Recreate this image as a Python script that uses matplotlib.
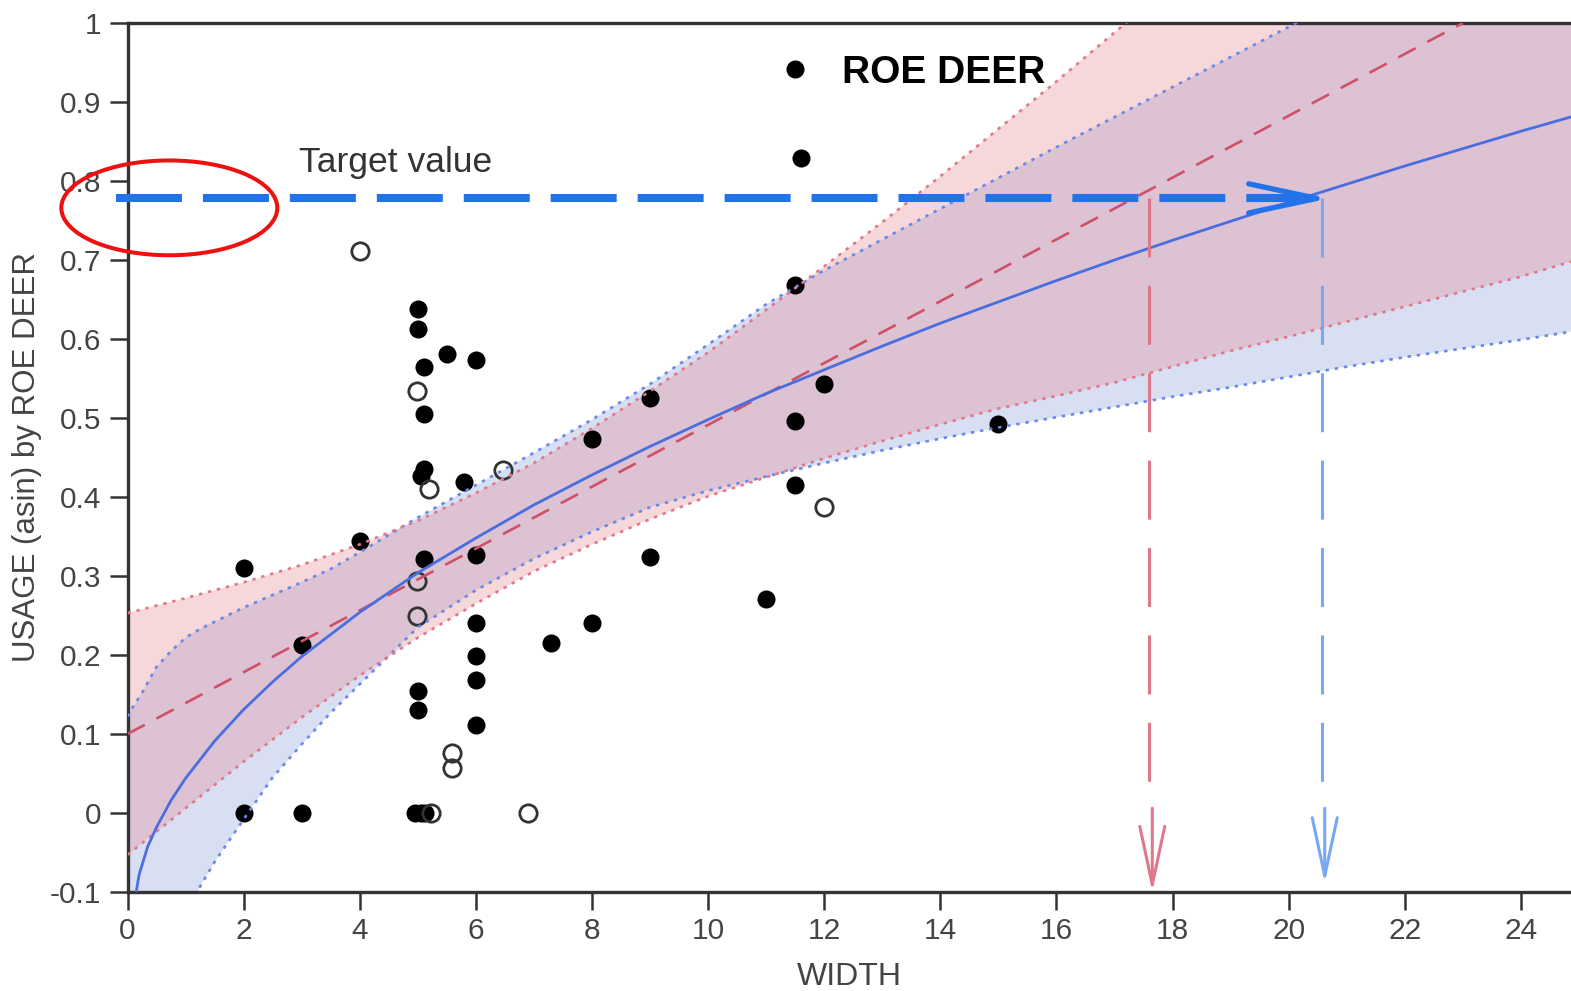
import matplotlib
matplotlib.use('Agg')
import matplotlib.pyplot as plt
from matplotlib.patches import Ellipse
from matplotlib.lines import Line2D

plt.rcParams['font.family'] = ['Liberation Sans', 'DejaVu Sans']

# ---------------- data ----------------
# sites used by roe deer (filled) and other sites (open)
width_used = [2, 2, 3, 3, 4, 5, 5, 5.1, 5.1, 5.1, 5.05, 5.1, 5, 5, 4.95, 5.05, 5.12,
              5.5, 6, 5.8, 6, 6, 6, 6, 6, 7.3, 8, 8, 9, 9, 11, 11.5, 11.6, 11.5,
              11.5, 12, 15]
usage_used = [0.31, 0.0, 0.213, 0.0, 0.344, 0.638, 0.613, 0.565, 0.505, 0.436, 0.426,
              0.322, 0.155, 0.130, 0.0, 0.0, 0.0, 0.581, 0.573, 0.419, 0.327, 0.241,
              0.199, 0.168, 0.111, 0.215, 0.474, 0.241, 0.525, 0.324, 0.271, 0.668,
              0.829, 0.496, 0.415, 0.543, 0.493]
width_open = [4.0, 4.98, 5.2, 6.47, 4.98, 4.98, 5.59, 5.59, 5.23, 6.89, 12.0]
usage_open = [0.712, 0.534, 0.41, 0.434, 0.294, 0.249, 0.076, 0.057, 0.0, 0.0, 0.387]

# non-linear (power) fit and its confidence band
fit_x = [0.15, 0.2, 0.35, 0.5, 0.75, 1.0, 1.5, 2, 2.5, 3, 4, 5, 6, 7, 8, 9, 10, 11, 12,
         13, 14, 15, 16, 17, 18, 19, 20, 21, 22, 23, 24, 25]
fit_y = [-0.100, -0.078, -0.042, -0.018, 0.016, 0.044, 0.091, 0.131, 0.166, 0.198,
         0.254, 0.304, 0.348, 0.390, 0.428, 0.464, 0.498, 0.531, 0.561, 0.591, 0.620,
         0.647, 0.674, 0.700, 0.725, 0.749, 0.773, 0.796, 0.819, 0.841, 0.863, 0.884]
band_x = [0, 0.1, 0.25, 0.5, 0.75, 1, 1.25, 1.5, 2, 2.5, 3, 3.5, 4, 5, 6, 7, 8, 9, 10,
          11, 12, 13, 14, 15, 16, 17, 18, 19, 20, 21, 22, 23, 24, 25]
band_upper = [0.122, 0.135, 0.152, 0.185, 0.205, 0.222, 0.233, 0.242, 0.260, 0.276,
              0.292, 0.309, 0.330, 0.374, 0.415, 0.456, 0.498, 0.543, 0.593, 0.644,
              0.687, 0.726, 0.765, 0.804, 0.843, 0.881, 0.919, 0.957, 0.995, 1.033,
              1.071, 1.109, 1.147, 1.185]
band_lower = [-0.45, -0.40, -0.33, -0.25, -0.19, -0.135, -0.093, -0.062, -0.008, 0.045,
              0.087, 0.127, 0.163, 0.235, 0.282, 0.322, 0.356, 0.387, 0.408, 0.426,
              0.443, 0.459, 0.474, 0.488, 0.501, 0.514, 0.527, 0.539, 0.552, 0.565,
              0.577, 0.588, 0.599, 0.611]

# linear fit and its confidence band
lin_x = [0, 23]
lin_y = [0.10, 1.0]
lin_band_x = [0, 1, 2, 3, 4, 5, 6, 7, 8, 9, 10, 11, 12, 13, 14, 15, 16, 17, 18, 19,
              20, 21, 22, 23, 24, 25]
lin_upper = [0.253, 0.272, 0.292, 0.314, 0.340, 0.370, 0.405, 0.443, 0.487, 0.534,
             0.583, 0.637, 0.692, 0.748, 0.806, 0.866, 0.926, 0.988, 1.05, 1.11, 1.17,
             1.23, 1.29, 1.35, 1.41, 1.47]
lin_lower = [-0.053, 0.006, 0.065, 0.121, 0.174, 0.222, 0.265, 0.306, 0.340, 0.372,
             0.401, 0.425, 0.449, 0.471, 0.492, 0.512, 0.528, 0.545, 0.565, 0.585,
             0.603, 0.622, 0.641, 0.660, 0.679, 0.701]

target_value = 0.778
target_start = -0.19
width_linear = 17.6
width_power = 20.6
width_power_tip = 20.7

x_ticks = [0, 2, 4, 6, 8, 10, 12, 14, 16, 18, 20, 22, 24]
y_ticks = [-0.1, 0, 0.1, 0.2, 0.3, 0.4, 0.5, 0.6, 0.7, 0.8, 0.9, 1.0]
y_tick_labels = ['-0.1', '0', '0.1', '0.2', '0.3', '0.4', '0.5', '0.6', '0.7', '0.8',
                 '0.9', '1']

# ---------------- figure ----------------
W, H = 1571, 991
fig = plt.figure(figsize=(W / 100, H / 100), dpi=100)
ax = fig.add_axes([127.5 / W, 99 / H, 1444 / W, 869 / H])
ax.set_xlim(0, 24.87)
ax.set_ylim(-0.1, 1.0)

BLUE_FILL = '#8498da'
RED_FILL = '#e4808a'
BLUE_LINE = '#4a6ee0'
BLUE_DOT = '#6a88e6'
RED_DASH = '#d0506a'
RED_DOT = '#e07a8a'

ax.fill_between(band_x, band_lower, band_upper, color=BLUE_FILL, alpha=0.3, lw=0,
                zorder=1)
ax.fill_between(lin_band_x, lin_lower, lin_upper, color=RED_FILL, alpha=0.3, lw=0,
                zorder=1.1)

# points
ax.plot(width_used, usage_used, 'o', color='black', markersize=13, mew=0, zorder=2)
ax.plot(width_open, usage_open, 'o', mfc='none', mec='#333333', mew=2.0,
        markersize=12.5, zorder=2)

# fits
dot_lw = 1.9
ax.plot(band_x, band_upper, color=BLUE_DOT, lw=dot_lw, dashes=(1.3, 2.2), zorder=3)
ax.plot(band_x, band_lower, color=BLUE_DOT, lw=dot_lw, dashes=(1.3, 2.2), zorder=3)
ax.plot(lin_band_x, lin_upper, color=RED_DOT, lw=dot_lw, dashes=(1.3, 2.2), zorder=3)
ax.plot(lin_band_x, lin_lower, color=RED_DOT, lw=dot_lw, dashes=(1.3, 2.2), zorder=3)
ax.plot(lin_x, lin_y, color=RED_DASH, lw=1.9, dashes=(7.4, 5.0), zorder=3)
ax.plot(fit_x, fit_y, color=BLUE_LINE, lw=2.0, zorder=3.2)

# target line with arrow
t_lw = 5.8
ax.plot([target_start, width_power], [target_value, target_value], color='#2272ea',
        lw=t_lw, dashes=(47.5 / t_lw, 15.1 / t_lw), solid_capstyle='butt',
        clip_on=False, zorder=5)
ax.annotate('', xy=(width_power_tip, target_value), xytext=(19.55, target_value),
            arrowprops=dict(arrowstyle='->,head_length=49,head_width=10.5',
                            mutation_scale=1, color='#2272ea', lw=3.8,
                            shrinkA=0, shrinkB=0), zorder=5, annotation_clip=False)

# vertical drop lines
v_lw = 2.2
drop_end = 0.035
arrow_start = 0.006
ax.plot([width_linear, width_linear], [target_value, drop_end], color='#e0788c',
        lw=v_lw, dashes=(19.3, 9.3), zorder=4)
ax.annotate('', xy=(width_linear + 0.05, -0.1), xytext=(width_linear + 0.05, arrow_start),
            arrowprops=dict(arrowstyle='->,head_length=42,head_width=9',
                            mutation_scale=1, color='#e0788c', lw=2.2,
                            shrinkA=0, shrinkB=0), zorder=4, annotation_clip=False)
ax.plot([width_power - 0.02, width_power - 0.02], [target_value, drop_end],
        color='#78a8f4', lw=v_lw, dashes=(19.3, 9.3), zorder=4)
ax.annotate('', xy=(width_power + 0.02, -0.089), xytext=(width_power + 0.02, arrow_start),
            arrowprops=dict(arrowstyle='->,head_length=42,head_width=9',
                            mutation_scale=1, color='#78a8f4', lw=2.2,
                            shrinkA=0, shrinkB=0), zorder=4, annotation_clip=False)

# red ellipse around axis target
ax.add_patch(Ellipse((0.72, 0.766), 3.72, 0.120, fill=False, edgecolor='#ee1111',
                     lw=2.9, clip_on=False, zorder=6))
ax.text(2.96, 0.823, 'Target value', fontsize=25.5, color='#333333', ha='left',
        va='center', zorder=6)

# legend
handle = Line2D([], [], marker='o', color='black', ls='none', markersize=13, mew=0)
leg = ax.legend([handle], ['ROE DEER'], loc='center left',
                bbox_to_anchor=(0.449, 0.943), frameon=False,
                prop={'weight': 'bold', 'size': 28}, handlelength=1.0,
                handletextpad=0.7, borderpad=0, borderaxespad=0)

# axes styling
for side in ['left', 'top', 'bottom']:
    ax.spines[side].set_color('#333333')
    ax.spines[side].set_linewidth(2.4)
ax.spines['right'].set_visible(False)

ax.set_xticks(x_ticks)
ax.set_xticklabels([str(v) for v in x_ticks])
ax.set_yticks(y_ticks)
ax.set_yticklabels(y_tick_labels)
ax.tick_params(axis='both', direction='out', length=13, width=1.8, color='#333333',
               labelsize=21.5, labelcolor='#444444')
ax.tick_params(axis='y', pad=6)
ax.tick_params(axis='x', pad=5)

ax.set_ylabel('USAGE (asin) by ROE DEER', fontsize=22.5, color='#444444')
ax.yaxis.set_label_coords(-0.0595, 0.5)
ax.set_xlabel('WIDTH', fontsize=23, color='#444444')
ax.xaxis.set_label_coords(0.5, -0.080)

fig.savefig('out.png', dpi=100)
